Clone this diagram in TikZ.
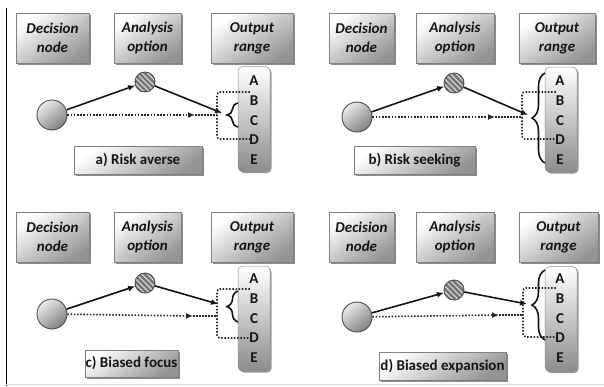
\documentclass[tikz,border=0pt]{standalone}
\usepackage{fontspec}
\setmainfont{Carlito}
\usetikzlibrary{shadows,arrows.meta,decorations.pathreplacing}

\tikzset{
  boxshade/.style={draw=black!50, line width=0.5pt, top color=white, bottom color=black!42,
    shading angle=35,
    drop shadow={shadow xshift=1.6pt, shadow yshift=-1.6pt, opacity=0.45, fill=black}},
  hdr/.style={boxshade, minimum height=50pt, inner sep=0pt, align=center,
    font=\fontsize{15}{19}\selectfont\bfseries\itshape, text=black!92},
  lab/.style={boxshade, inner sep=0pt, font=\fontsize{15}{18}\selectfont\bfseries, text=black!92},
  col/.style={draw=black!45, line width=0.5pt, rounded corners=4.5pt, top color=white,
    bottom color=black!45, minimum width=32pt, minimum height=105pt, inner sep=0pt,
    drop shadow={shadow xshift=1.6pt, shadow yshift=-1.6pt, opacity=0.4, fill=black}},
  letr/.style={font=\fontsize{15}{15}\selectfont\bfseries, text=black!92, inner sep=0pt},
  dnode/.style={circle, minimum size=30pt, inner sep=0pt, draw=black!70, line width=0.9pt,
    top color=black!8, bottom color=black!50, shading angle=40},
  hnode/.style={circle, minimum size=20pt, inner sep=0pt, draw=black!70, line width=0.9pt,
    fill=black!18,
    path picture={\foreach \k in {-30,-24.5,...,30}
      \draw[line width=2.2pt, black!55] ([xshift=\k pt]path picture bounding box.center)
        ++(-15,-15) -- ++(30,30);}},
  sol/.style={line width=1.6pt, black!92, -{Latex[length=7pt,width=6pt]}},
  dotl/.style={line width=1.6pt, black!85, dash pattern=on 1.5pt off 1.7pt},
  dotarr/.style={dotl, -{Latex[length=7pt,width=6pt]}},
  dotdense/.style={line width=1.8pt, black!85, dash pattern=on 1.8pt off 1.2pt},
  bkt/.style={dotl, rounded corners=3pt},
  brc/.style={line width=1.6pt, black!92, decorate,
    decoration={brace, amplitude=#1}},
}

\begin{document}
\begin{tikzpicture}[x=1pt, y=-1pt]
\useasboundingbox (0,0) rectangle (604,386);

% frame edges
\draw[line width=1pt] (6,8) -- (6,386);
\draw[black!15, line width=0.6pt] (6,384) -- (604,384);

% ---------------- a) Risk averse ----------------
\node[hdr, minimum width=73pt] (aHd) at (52.5,38) {Decision\\node};
\node[hdr, minimum width=67pt] (aHa) at (147.5,38) {Analysis\\option};
\node[hdr, minimum width=82pt] (aHo) at (252,38) {Output\\range};
\node[col] (aC) at (254,119) {};
\foreach \l [count=\i from 0] in {A,B,C,D,E}
  \node[letr] (a\l) at (254,81+19.7*\i) {\l};
\node[dnode] (aD) at (52,115) {};
\node[hnode] (aH) at (145,82) {};
\node[lab, minimum width=128pt, minimum height=28pt] (aL) at (138,160) {a) Risk averse};
\coordinate (aT) at (222,113);
\coordinate (aM) at (195,115);
\coordinate (aE) at (217,115);
\coordinate (aQt) at (217,92);
\coordinate (aQb) at (217,139);
\coordinate (aBt) at (238,103);
\coordinate (aBb) at (238,127);
\draw[sol] (aD) -- (aH);
\draw[sol] (aH) -- (aT);
\draw[dotarr] (aD) -- (aM);
\draw[dotdense] (aM) -- (aE);
\draw[bkt] (aC.west |- aQt) -- (aQt) -- (aQb) -- (aC.west |- aQb);
\draw[brc=11pt] (aBb) -- (aBt);

% ---------------- b) Risk seeking ----------------
\node[hdr, minimum width=65pt] (bHd) at (361.5,38) {Decision\\node};
\node[hdr, minimum width=78pt] (bHa) at (455,38) {Analysis\\option};
\node[hdr, minimum width=76pt] (bHo) at (557,38) {Output\\range};
\node[col] (bC) at (561,119.5) {};
\foreach \l [count=\i from 0] in {A,B,C,D,E}
  \node[letr] (b\l) at (560,81+19.7*\i) {\l};
\node[dnode] (bD) at (357,117) {};
\node[hnode] (bH) at (454,83) {};
\node[lab, minimum width=121pt, minimum height=28pt] (bL) at (414.5,160) {b) Risk seeking};
\coordinate (bT) at (528,115);
\coordinate (bM) at (495,117);
\coordinate (bE) at (522,117);
\coordinate (bQt) at (522,92);
\coordinate (bQb) at (522,139);
\coordinate (bBt) at (545,73);
\coordinate (bBb) at (545,163);
\draw[sol] (bD) -- (bH);
\draw[sol] (bH) -- (bT);
\draw[dotarr] (bD) -- (bM);
\draw[dotdense] (bM) -- (bE);
\draw[bkt] (bC.west |- bQt) -- (bQt) -- (bQb) -- (bC.west |- bQb);
\draw[brc=13pt] (bBb) -- (bBt);

% ---------------- c) Biased focus ----------------
\node[hdr, minimum width=73pt] (cHd) at (52.5,237) {Decision\\node};
\node[hdr, minimum width=67pt] (cHa) at (147.5,237) {Analysis\\option};
\node[hdr, minimum width=82pt] (cHo) at (252,237) {Output\\range};
\node[col] (cC) at (254,318.5) {};
\foreach \l [count=\i from 0] in {A,B,C,D,E}
  \node[letr] (c\l) at (254,279+19.7*\i) {\l};
\node[dnode] (cD) at (52,314) {};
\node[hnode] (cH) at (145,283) {};
\node[lab, minimum width=93pt, minimum height=27pt] (cL) at (131.5,363.5) {c) Biased focus};
\coordinate (cT) at (218,304);
\coordinate (cM) at (193,316);
\coordinate (cE) at (217,316);
\coordinate (cQt) at (217,289);
\coordinate (cQb) at (217,338);
\coordinate (cBt) at (238,291);
\coordinate (cBb) at (238,322);
\draw[sol] (cD) -- (cH);
\draw[sol] (cH) -- (cT);
\draw[dotarr] (cD) -- (cM);
\draw[dotdense] (cM) -- (cE);
\draw[bkt] (cC.west |- cQt) -- (cQt) -- (cQb) -- (cC.west |- cQb);
\draw[brc=11pt] (cBb) -- (cBt);

% ---------------- d) Biased expansion ----------------
\node[hdr, minimum width=65pt] (dHd) at (361.5,237) {Decision\\node};
\node[hdr, minimum width=78pt] (dHa) at (455,237) {Analysis\\option};
\node[hdr, minimum width=79pt] (dHo) at (558.5,237) {Output\\range};
\node[col] (dC) at (561,319) {};
\foreach \l [count=\i from 0] in {A,B,C,D,E}
  \node[letr] (d\l) at (560,279+19.7*\i) {\l};
\node[dnode] (dD) at (357,317) {};
\node[hnode] (dH) at (454,290) {};
\node[lab, minimum width=127pt, minimum height=28pt] (dL) at (442.5,366) {d) Biased expansion};
\coordinate (dT) at (527,304);
\coordinate (dM) at (499,315);
\coordinate (dE) at (523,315);
\coordinate (dQt) at (523,288);
\coordinate (dQb) at (523,337);
\coordinate (dBt) at (545,270);
\coordinate (dBb) at (545,340);
\draw[sol] (dD) -- (dH);
\draw[sol] (dH) -- (dT);
\draw[dotarr] (dD) -- (dM);
\draw[dotdense] (dM) -- (dE);
\draw[bkt] (dC.west |- dQt) -- (dQt) -- (dQb) -- (dC.west |- dQb);
\draw[brc=13pt] (dBb) -- (dBt);
\end{tikzpicture}
\end{document}
